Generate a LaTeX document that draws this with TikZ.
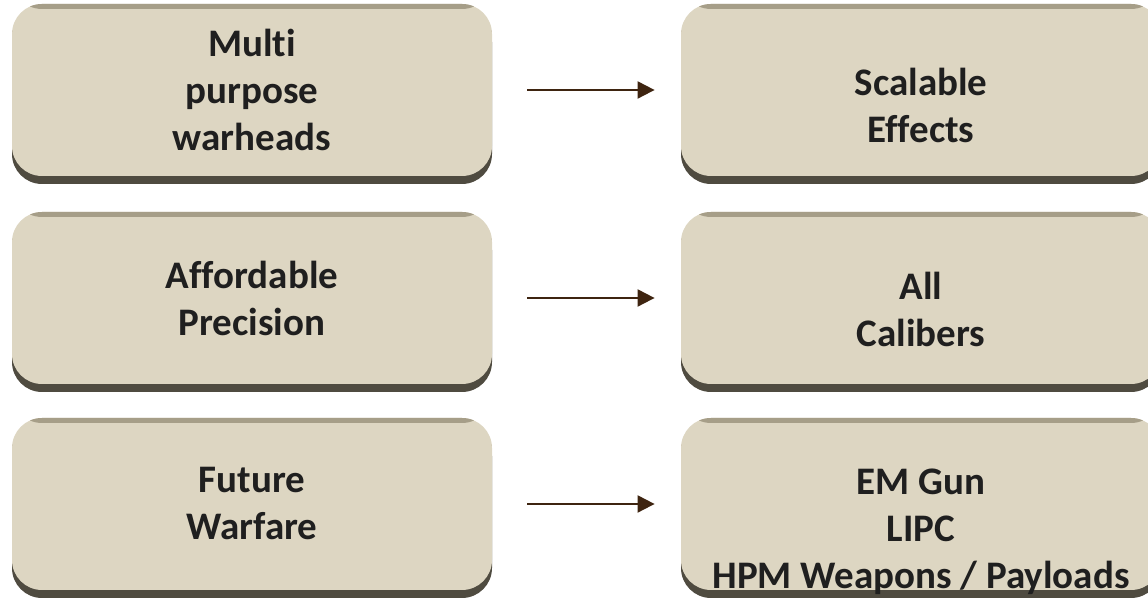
\documentclass[tikz,border=0pt]{standalone}
\usepackage{fontspec}
\setmainfont[Ligatures={NoCommon,NoContextual},RawFeature={-liga;-clig;-calt}]{Carlito}
\usetikzlibrary{arrows.meta}
\definecolor{panelfill}{RGB}{221,214,194}
\definecolor{paneltop}{RGB}{166,158,136}
\definecolor{panelshade}{RGB}{79,75,64}
\definecolor{arrowc}{RGB}{62,36,16}
\tikzset{
  panel/.style={draw=none, fill=panelfill, rounded corners=15pt,
    minimum width=240pt, minimum height=86pt, inner sep=0pt,
    preaction={fill=panelshade, transform canvas={yshift=-4pt}},
    path picture={\fill[paneltop] ([yshift=1pt]path picture bounding box.north west)
      rectangle ([yshift=-2.5pt]path picture bounding box.north east);}},
  words/.style={align=center, text=black!88, font=\fontsize{19.5pt}{23.5pt}\selectfont\bfseries},
  lead/.style={draw=arrowc, line width=1pt, -{Triangle[length=8.5pt,width=8.5pt]},
    shorten <=17.5pt, shorten >=13pt}
}
\begin{document}
\begin{tikzpicture}[x=1pt,y=1pt]
    \useasboundingbox (0,0) rectangle (574,299);
    \node[panel] (mw) at (126,254) {};
    \node[panel] (ap) at (126,150) {};
    \node[panel] (fw) at (126,47) {};
    \node[panel] (se) at (460.5,254) {};
    \node[panel] (ac) at (460.5,150) {};
    \node[panel] (em) at (460.5,47) {};
    \node[words] at (mw.center) {Multi\\purpose\\warheads};
    \node[words] at (ap.center) {Affordable\\Precision};
    \node[words] at (fw.center) {Future\\Warfare};
    \node[words] at ([yshift=-7.5pt]se.center) {Scalable\\Effects};
    \node[words] at ([yshift=-5.5pt]ac.center) {All\\Calibers};
    \node[words] at ([yshift=-14pt]em.center) {EM Gun\\LIPC\\HPM Weapons / Payloads};
    \draw[lead] (mw) -- (se);
    \draw[lead] (ap) -- (ac);
    \draw[lead] (fw) -- (em);
\end{tikzpicture}
\end{document}
